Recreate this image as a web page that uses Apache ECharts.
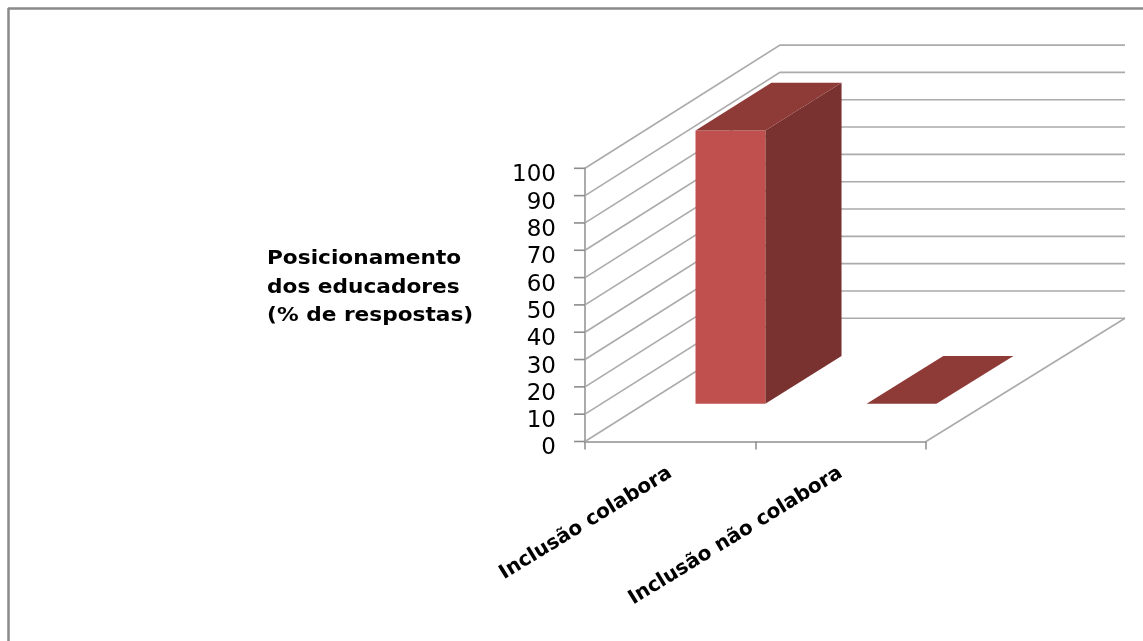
<!DOCTYPE html>
<html><head><meta charset="utf-8">
<style>html,body{margin:0;padding:0;background:#fff}#c{width:1143px;height:641px}</style>
<script src="https://cdn.jsdelivr.net/npm/echarts@6/dist/echarts.min.js"></script>
</head><body><div id="c"></div>
<script>
const categories = ['Inclusão colabora', 'Inclusão não colabora'];
const values = [100, 0];
const yTicks = [0, 10, 20, 30, 40, 50, 60, 70, 80, 90, 100];
const axisTitle = 'Posicionamento\ndos educadores\n(% de respostas)';

const DEPTH_X = 195, DEPTH_Y = -123.2;   // oblique depth vector of the chart box
const PERSPECTIVE = 0.0117;              // slight widening of the box toward the back
const BAR_Z0 = 0.307, BAR_Z1 = 0.695;    // bar extent along the depth
const BAR_W = 0.408;                     // bar width as a share of the category band
const GRID = '#ababab';
const TICK_LEN = 11;

const lineShape = (pts, stroke) => ({ type: 'polyline', shape: { points: pts }, style: { fill: 'none', stroke: stroke || GRID, lineWidth: 1.6 }, silent: true });
const poly = (pts, fill) => ({ type: 'polygon', shape: { points: pts }, style: { fill: fill }, silent: true });

function project(r, x, y, z) {
  return [r.x + (x - r.x) * (1 + PERSPECTIVE * z) + DEPTH_X * z, y + DEPTH_Y * z];
}

function renderWalls(params, api) {
  const r = params.coordSys;
  const v = api.value(0);
  const y = api.coord([0, v])[1];
  const x0 = r.x, x1 = r.x + r.width;
  const children = [
    lineShape([project(r, x0, y, 0), project(r, x0, y, 1), project(r, x1, y, 1)]),
    lineShape([[x0 - TICK_LEN, y], [x0, y]], '#8c8c8c')
  ];
  if (v === 0) children.push(lineShape([project(r, x1, y, 0), project(r, x1, y, 1)]));
  return { type: 'group', children };
}

function renderBar(params, api) {
  const r = params.coordSys;
  const c = api.coord([api.value(0), api.value(1)]);
  const b = api.coord([api.value(0), 0]);
  const w = api.size([1, 0])[0] * BAR_W;
  const xl = c[0] - w / 2, xr = c[0] + w / 2;
  const top = c[1], bot = b[1];
  const P = (x, y, z) => project(r, x, y, z);
  const children = [];
  if (bot - top > 0.5) {
    children.push(poly([P(xr, top, BAR_Z0), P(xr, top, BAR_Z1), P(xr, bot, BAR_Z1), P(xr, bot, BAR_Z0)], '#7a3230'));
    children.push(poly([P(xl, top, BAR_Z0), P(xr, top, BAR_Z0), P(xr, bot, BAR_Z0), P(xl, bot, BAR_Z0)], '#c0504d'));
  }
  children.push(poly([P(xl, top, BAR_Z0), P(xr, top, BAR_Z0), P(xr, top, BAR_Z1), P(xl, top, BAR_Z1)], '#8e3b38'));
  return { type: 'group', children };
}

const chart = echarts.init(document.getElementById('c'), null, { renderer: 'canvas' });
chart.setOption({
  animation: false,
  backgroundColor: '#fff',
  grid: { left: 585, right: 217, top: 168.3, bottom: 199.5, containLabel: false },
  xAxis: {
    type: 'category', data: categories,
    axisLine: { lineStyle: { color: GRID, width: 2 } },
    axisTick: { show: true, alignWithLabel: false, length: 8, lineStyle: { color: '#8c8c8c', width: 1.5 } },
    axisLabel: { interval: 0, rotate: 31.5, margin: 30, color: '#000', fontFamily: 'DejaVu Sans', fontWeight: 'bold', fontSize: 20 }
  },
  yAxis: {
    type: 'value', min: 0, max: 100, interval: 10,
    splitLine: { show: false },
    axisLine: { show: true, lineStyle: { color: GRID, width: 2 } },
    axisTick: { show: false },
    axisLabel: { margin: 29, verticalAlign: 'top', lineHeight: 14, color: '#000', fontFamily: 'DejaVu Sans', fontSize: 23 }
  },
  graphic: [
    { type: 'line', shape: { x1: 8.5, y1: 8, x2: 8.5, y2: 641 }, style: { stroke: '#8a8a8a', lineWidth: 2.5 } },
    { type: 'line', shape: { x1: 8, y1: 8.5, x2: 1143, y2: 8.5 }, style: { stroke: '#8a8a8a', lineWidth: 2.5 } },
    { type: 'text', x: 267, y: 245, scaleX: 1.14,
      style: { text: axisTitle, fill: '#000', font: 'bold 19px "DejaVu Sans"', lineHeight: 28.5 } }
  ],
  series: [
    { type: 'custom', coordinateSystem: 'cartesian2d', renderItem: renderWalls, data: yTicks.map(v => [v]), encode: { y: 0 }, z: 1, silent: true, clip: false },
    { type: 'custom', coordinateSystem: 'cartesian2d', renderItem: renderBar, data: values.map((v, i) => [i, v]), encode: { x: 0, y: 1 }, z: 2, silent: true, clip: false }
  ]
});
</script></body></html>
